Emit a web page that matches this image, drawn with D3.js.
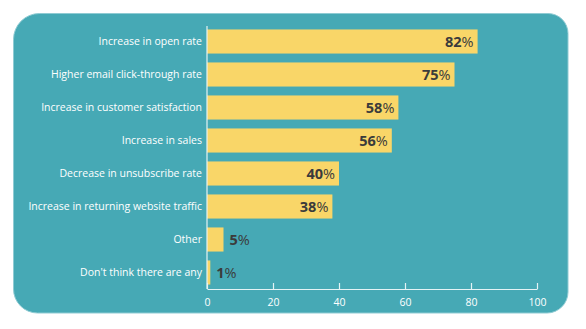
<!DOCTYPE html>
<html>
<head>
<meta charset="utf-8">
<script src="https://cdn.jsdelivr.net/npm/d3@7"></script>
<style>
  html, body { margin: 0; padding: 0; background: #fff; }
  svg { display: block; }
</style>
</head>
<body>
<script>
// survey results
var categories = [
  'Increase in open rate',
  'Higher email click-through rate',
  'Increase in customer satisfaction',
  'Increase in sales',
  'Decrease in unsubscribe rate',
  'Increase in returning website traffic',
  'Other',
  "Don't think there are any"
];
var values = [82, 75, 58, 56, 40, 38, 5, 1];
var tickValues = [0, 20, 40, 60, 80, 100];

var width = 586,
    height = 329;

var svg = d3.select('body').append('svg')
    .attr('width', width)
    .attr('height', height);

// rounded panel, each corner has its own radius (tl, tr, br, bl)
function panelPath(x0, y0, x1, y1, r) {
  var p = d3.path();
  p.moveTo(x0 + r[0], y0);
  p.arcTo(x1, y0, x1, y1, r[1]);
  p.arcTo(x1, y1, x0, y1, r[2]);
  p.arcTo(x0, y1, x0, y0, r[3]);
  p.arcTo(x0, y0, x1, y0, r[0]);
  p.closePath();
  return p.toString();
}

svg.append('path')
    .attr('d', panelPath(13.5, 13.5, 568, 313, [26, 20, 21, 24]))
    .style('fill', '#46a9b5')
    .style('stroke', '#8fcbd3')
    .style('stroke-width', 1);

var x = d3.scaleLinear().domain([0, 100]).range([207, 537]);
var y = d3.scaleBand()
    .domain(categories)
    .range([25, 289])
    .paddingInner(0.27)
    .paddingOuter(0.135);

var data = categories.map(function(c, i) { return {name: c, value: values[i]}; });

// bars
svg.selectAll('.bar')
    .data(data)
    .enter().append('rect')
    .attr('class', 'bar')
    .attr('x', x(0))
    .attr('y', function(d) { return y(d.name); })
    .attr('width', function(d) { return x(d.value) - x(0); })
    .attr('height', y.bandwidth())
    .style('fill', '#f9d668');

// category labels
svg.selectAll('.cat')
    .data(data)
    .enter().append('text')
    .attr('class', 'cat')
    .attr('x', x(0) - 5)
    .attr('y', function(d) { return y(d.name) + y.bandwidth() / 2; })
    .attr('dy', '0.35em')
    .attr('text-anchor', 'end')
    .style('font-family', 'Open Sans, sans-serif')
    .style('font-size', '10.5px')
    .style('fill', '#ffffff')
    .text(function(d) { return d.name; });

// value labels: inside the bar when it is long enough, else just after it
var vl = svg.selectAll('.val')
    .data(data)
    .enter().append('text')
    .attr('class', 'val')
    .attr('x', function(d) { return d.value > 20 ? x(d.value) - 4 : x(d.value) + 6; })
    .attr('y', function(d) { return y(d.name) + y.bandwidth() / 2; })
    .attr('dy', '0.36em')
    .attr('text-anchor', function(d) { return d.value > 20 ? 'end' : 'start'; })
    .style('font-family', 'Open Sans, sans-serif')
    .style('font-size', '14.5px')
    .style('fill', '#3b3b3b');
vl.append('tspan')
    .style('font-weight', 'bold')
    .text(function(d) { return d.value; });
vl.append('tspan')
    .text('%');

// x axis
var axis = svg.append('g')
    .attr('transform', 'translate(0,289)')
    .call(d3.axisBottom(x).tickValues(tickValues).tickSize(-6).tickPadding(8).tickSizeOuter(0));
axis.select('.domain').style('stroke', '#e4f3f5').style('stroke-width', 1.2);
axis.selectAll('.tick line').style('stroke', '#e4f3f5').style('stroke-width', 1.2);
axis.selectAll('.tick text')
    .attr('dy', '0.71em')
    .attr('y', 10)
    .style('font-family', 'Open Sans, sans-serif')
    .style('font-size', '10.5px')
    .style('fill', '#ffffff');

// vertical baseline
svg.append('line')
    .attr('x1', x(0)).attr('x2', x(0))
    .attr('y1', 26).attr('y2', 289)
    .style('stroke', '#e4f3f5')
    .style('stroke-width', 1.2);
</script>
</body>
</html>
